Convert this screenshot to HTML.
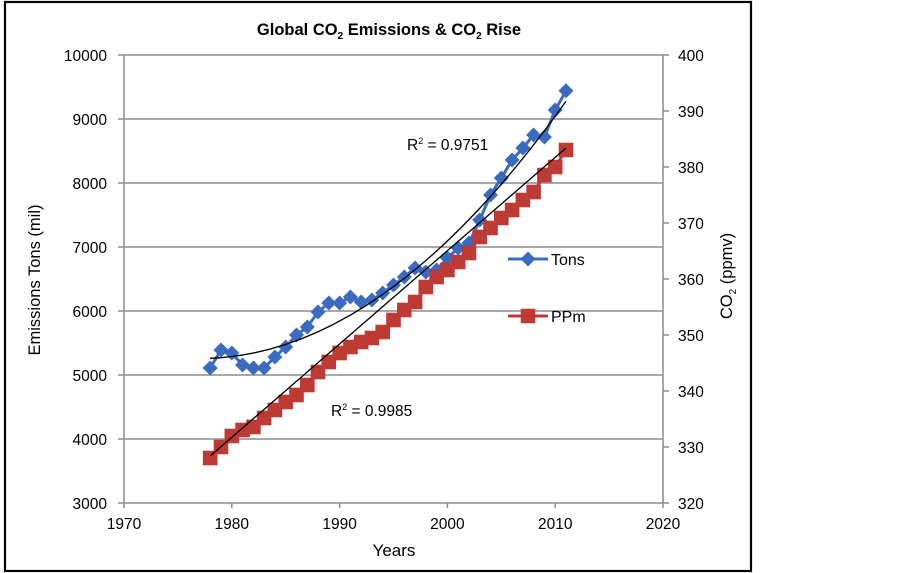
<!DOCTYPE html>
<html><head><meta charset="utf-8"><style>
html,body{margin:0;padding:0;background:#fff;}
svg{display:block;font-family:"Liberation Sans",Arial,sans-serif;}
</style></head><body>
<svg width="903" height="573" viewBox="0 0 903 573" xmlns="http://www.w3.org/2000/svg">
<defs>
<g id="d"><polygon points="0,-7.5 7.5,0 0,7.5 -7.5,0" fill="#3A6BC0"/></g>
<g id="s"><rect x="-7.3" y="-7.3" width="14.6" height="14.6" fill="#BE3A35"/></g>
</defs>
<rect x="5" y="2" width="746" height="569" fill="#fff" stroke="#000" stroke-width="2.2"/>
<text x="389" y="35" text-anchor="middle" font-size="16.5" font-weight="bold">Global CO<tspan font-size="10" dy="4">2</tspan><tspan dy="-4"> Emissions &amp; CO</tspan><tspan font-size="10" dy="4">2</tspan><tspan dy="-4"> Rise</tspan></text>
<g stroke="#8c8c8c" stroke-width="1.5">
<line x1="118" y1="55" x2="669" y2="55"/>
<line x1="118" y1="119" x2="663" y2="119"/>
<line x1="118" y1="183" x2="663" y2="183"/>
<line x1="118" y1="247" x2="663" y2="247"/>
<line x1="118" y1="311" x2="663" y2="311"/>
<line x1="118" y1="375" x2="663" y2="375"/>
<line x1="118" y1="439" x2="663" y2="439"/>
<line x1="118" y1="503" x2="669" y2="503"/>
<line x1="124" y1="55" x2="124" y2="508"/>
<line x1="663" y1="55" x2="663" y2="508"/>
<line x1="663" y1="111" x2="669" y2="111"/><line x1="663" y1="167" x2="669" y2="167"/>
<line x1="663" y1="223" x2="669" y2="223"/><line x1="663" y1="279" x2="669" y2="279"/>
<line x1="663" y1="335" x2="669" y2="335"/><line x1="663" y1="391" x2="669" y2="391"/>
<line x1="663" y1="447" x2="669" y2="447"/>
<line x1="231.8" y1="503" x2="231.8" y2="508"/><line x1="339.6" y1="503" x2="339.6" y2="508"/>
<line x1="447.4" y1="503" x2="447.4" y2="508"/><line x1="555.2" y1="503" x2="555.2" y2="508"/>
</g>
<g font-size="15.5" text-anchor="end">
<text x="107" y="61">10000</text><text x="107" y="125">9000</text><text x="107" y="189">8000</text>
<text x="107" y="253">7000</text><text x="107" y="317">6000</text><text x="107" y="381">5000</text>
<text x="107" y="445">4000</text><text x="107" y="509">3000</text>
</g>
<g font-size="15.5">
<text x="678" y="61">400</text><text x="678" y="117">390</text><text x="678" y="173">380</text>
<text x="678" y="229">370</text><text x="678" y="285">360</text><text x="678" y="341">350</text>
<text x="678" y="397">340</text><text x="678" y="453">330</text><text x="678" y="509">320</text>
</g>
<g font-size="15.5" text-anchor="middle">
<text x="124" y="529">1970</text><text x="231.8" y="529">1980</text><text x="339.6" y="529">1990</text>
<text x="447.4" y="529">2000</text><text x="555.2" y="529">2010</text><text x="663" y="529">2020</text>
<text x="394" y="556" font-size="17">Years</text>
</g>
<text transform="translate(40,280) rotate(-90)" text-anchor="middle" font-size="16.5">Emissions Tons (mil)</text>
<text transform="translate(732,276) rotate(-90)" text-anchor="middle" font-size="16.5">CO<tspan font-size="10" dy="4">2</tspan><tspan dy="-4"> (ppmv)</tspan></text>
<polyline fill="none" stroke="#3A6BC0" stroke-width="3" points="210.2,368 221,350 231.8,353 242.6,365 253.4,368 264.1,368 274.9,357 285.7,347 296.5,335 307.3,327 318,312 328.8,303 339.6,303 350.4,297 361.2,302 371.9,300 382.7,293 393.5,285 404.3,277 415.1,268 425.8,272 436.6,270 447.4,258 458.2,248 469,243 479.7,220 490.5,195 501.3,178 512.1,160 522.9,148 533.6,135 544.4,137 555.2,110 566,90.8"/>
<g>
<use href="#d" x="210.2" y="368"/><use href="#d" x="221" y="350"/><use href="#d" x="231.8" y="353"/><use href="#d" x="242.6" y="365"/><use href="#d" x="253.4" y="368"/><use href="#d" x="264.1" y="368"/><use href="#d" x="274.9" y="357"/><use href="#d" x="285.7" y="347"/><use href="#d" x="296.5" y="335"/><use href="#d" x="307.3" y="327"/><use href="#d" x="318" y="312"/><use href="#d" x="328.8" y="303"/><use href="#d" x="339.6" y="303"/><use href="#d" x="350.4" y="297"/><use href="#d" x="361.2" y="302"/><use href="#d" x="371.9" y="300"/><use href="#d" x="382.7" y="293"/><use href="#d" x="393.5" y="285"/><use href="#d" x="404.3" y="277"/><use href="#d" x="415.1" y="268"/><use href="#d" x="425.8" y="272"/><use href="#d" x="436.6" y="270"/><use href="#d" x="447.4" y="258"/><use href="#d" x="458.2" y="248"/><use href="#d" x="469" y="243"/><use href="#d" x="479.7" y="220"/><use href="#d" x="490.5" y="195"/><use href="#d" x="501.3" y="178"/><use href="#d" x="512.1" y="160"/><use href="#d" x="522.9" y="148"/><use href="#d" x="533.6" y="135"/><use href="#d" x="544.4" y="137"/><use href="#d" x="555.2" y="110"/><use href="#d" x="566" y="90.8"/>
</g>
<polyline fill="none" stroke="#BE3A35" stroke-width="3" points="210.2,458 221,447 231.8,436 242.6,430 253.4,427 264.1,418 274.9,410 285.7,402 296.5,395 307.3,385 318,372 328.8,362 339.6,353 350.4,347 361.2,342 371.9,338 382.7,332 393.5,320 404.3,310 415.1,302 425.8,287 436.6,277 447.4,270 458.2,262 469,253 479.7,237 490.5,228 501.3,218 512.1,210 522.9,200 533.6,192 544.4,175 555.2,167 566,150"/>
<g>
<use href="#s" x="210.2" y="458"/><use href="#s" x="221" y="447"/><use href="#s" x="231.8" y="436"/><use href="#s" x="242.6" y="430"/><use href="#s" x="253.4" y="427"/><use href="#s" x="264.1" y="418"/><use href="#s" x="274.9" y="410"/><use href="#s" x="285.7" y="402"/><use href="#s" x="296.5" y="395"/><use href="#s" x="307.3" y="385"/><use href="#s" x="318" y="372"/><use href="#s" x="328.8" y="362"/><use href="#s" x="339.6" y="353"/><use href="#s" x="350.4" y="347"/><use href="#s" x="361.2" y="342"/><use href="#s" x="371.9" y="338"/><use href="#s" x="382.7" y="332"/><use href="#s" x="393.5" y="320"/><use href="#s" x="404.3" y="310"/><use href="#s" x="415.1" y="302"/><use href="#s" x="425.8" y="287"/><use href="#s" x="436.6" y="277"/><use href="#s" x="447.4" y="270"/><use href="#s" x="458.2" y="262"/><use href="#s" x="469" y="253"/><use href="#s" x="479.7" y="237"/><use href="#s" x="490.5" y="228"/><use href="#s" x="501.3" y="218"/><use href="#s" x="512.1" y="210"/><use href="#s" x="522.9" y="200"/><use href="#s" x="533.6" y="192"/><use href="#s" x="544.4" y="175"/><use href="#s" x="555.2" y="167"/><use href="#s" x="566" y="150"/>
</g>
<path fill="none" stroke="#000" stroke-width="1.3" d="M210,358.3 Q388,351.5 566,101.3"/>
<line x1="210.2" y1="456" x2="566" y2="148" stroke="#000" stroke-width="1.3"/>
<line x1="508" y1="259" x2="548" y2="259" stroke="#3A6BC0" stroke-width="3"/>
<use href="#d" x="528" y="259"/>
<text x="551" y="265" font-size="16">Tons</text>
<line x1="508" y1="316" x2="548" y2="316" stroke="#BE3A35" stroke-width="3"/>
<use href="#s" x="528" y="316"/>
<text x="551" y="322" font-size="16">PPm</text>
<text x="407" y="150" font-size="15.5">R<tspan font-size="9" dy="-6">2</tspan><tspan dy="6"> = 0.9751</tspan></text>
<text x="331" y="416" font-size="15.5">R<tspan font-size="9" dy="-6">2</tspan><tspan dy="6"> = 0.9985</tspan></text>
</svg>
</body></html>
